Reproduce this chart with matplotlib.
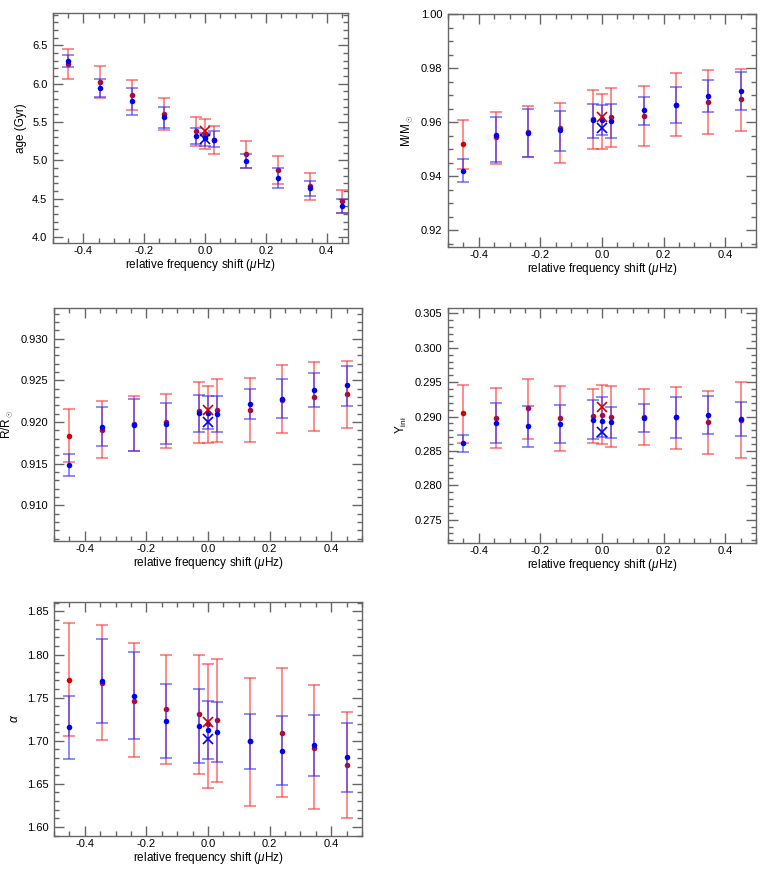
import numpy as np
import matplotlib
matplotlib.use('Agg')
import matplotlib.pyplot as plt
from matplotlib.ticker import MultipleLocator, FixedLocator, FormatStrFormatter

plt.rcParams['font.family'] = ['Liberation Sans', 'DejaVu Sans']
plt.rcParams['axes.unicode_minus'] = False
plt.rcParams['mathtext.fontset'] = 'custom'
plt.rcParams['mathtext.rm'] = 'Liberation Sans'
plt.rcParams['mathtext.it'] = 'Liberation Sans:italic'

# frequency shifts (uHz) of the 11 fits
shift = [-0.45, -0.345, -0.24, -0.135, -0.03, 0.0, 0.03, 0.135, 0.24, 0.345, 0.45]

# age (Gyr)
age_red = [6.255, 6.023, 5.850, 5.600, 5.375, 5.335, 5.265, 5.085, 4.873, 4.661, 4.465]
age_red_lo = [6.065, 5.811, 5.655, 5.395, 5.187, 5.148, 5.083, 4.900, 4.695, 4.487, 4.310]
age_red_hi = [6.446, 6.231, 6.045, 5.811, 5.568, 5.542, 5.447, 5.254, 5.055, 4.839, 4.610]
age_blue = [6.295, 5.945, 5.768, 5.560, 5.315, 5.290, 5.270, 4.990, 4.771, 4.636, 4.398]
age_blue_lo = [6.213, 5.824, 5.586, 5.417, 5.209, 5.190, 5.166, 4.900, 4.640, 4.534, 4.310]
age_blue_hi = [6.370, 6.058, 5.941, 5.694, 5.425, 5.360, 5.382, 5.085, 4.900, 4.733, 4.500]
age_x = [5.375, 5.280]

# mass (Msun)
mass_red = [0.9518, 0.9544, 0.9565, 0.9578, 0.9612, 0.9610, 0.9619, 0.9621, 0.9662, 0.9674, 0.9685]
mass_red_lo = [0.9428, 0.9445, 0.9470, 0.9448, 0.9502, 0.9501, 0.9507, 0.9510, 0.9547, 0.9555, 0.9569]
mass_red_hi = [0.9609, 0.9638, 0.9659, 0.9669, 0.9719, 0.9704, 0.9727, 0.9734, 0.9781, 0.9792, 0.9797]
mass_blue = [0.9421, 0.9554, 0.9560, 0.9570, 0.9607, 0.9607, 0.9604, 0.9643, 0.9664, 0.9696, 0.9715]
mass_blue_lo = [0.9380, 0.9452, 0.9470, 0.9495, 0.9543, 0.9551, 0.9543, 0.9591, 0.9596, 0.9638, 0.9643]
mass_blue_hi = [0.9462, 0.9620, 0.9649, 0.9642, 0.9667, 0.9664, 0.9667, 0.9693, 0.9731, 0.9755, 0.9785]
mass_x = [0.9620, 0.9578]

# radius (Rsun)
rad_red = [0.91836, 0.91908, 0.91980, 0.92004, 0.92128, 0.92104, 0.92144, 0.92144, 0.92270, 0.92304, 0.92332]
rad_red_lo = [0.91520, 0.91572, 0.91648, 0.91688, 0.91752, 0.91752, 0.91760, 0.91760, 0.91872, 0.91892, 0.91932]
rad_red_hi = [0.92156, 0.92248, 0.92308, 0.92332, 0.92484, 0.92436, 0.92512, 0.92530, 0.92680, 0.92716, 0.92732]
rad_blue = [0.91480, 0.91940, 0.91964, 0.91980, 0.92104, 0.92104, 0.92100, 0.92216, 0.92276, 0.92384, 0.92440]
rad_blue_lo = [0.91348, 0.91708, 0.91648, 0.91732, 0.91884, 0.91912, 0.91884, 0.92040, 0.92052, 0.92180, 0.92190]
rad_blue_hi = [0.91616, 0.92176, 0.92272, 0.92232, 0.92324, 0.92312, 0.92312, 0.92392, 0.92512, 0.92588, 0.92676]
rad_x = [0.92140, 0.92000]

# initial helium
yini_red = [0.29049, 0.28985, 0.29121, 0.28976, 0.29005, 0.29029, 0.29000, 0.28995, 0.28990, 0.28922, 0.28951]
yini_red_lo = [0.28621, 0.28549, 0.28680, 0.28495, 0.28612, 0.28597, 0.28563, 0.28592, 0.28529, 0.28456, 0.28398]
yini_red_hi = [0.29456, 0.29422, 0.29549, 0.29451, 0.29403, 0.29461, 0.29442, 0.29408, 0.29437, 0.29379, 0.29500]
yini_blue = [0.28612, 0.28913, 0.28864, 0.28898, 0.28956, 0.28932, 0.28922, 0.28981, 0.28995, 0.29029, 0.28966]
yini_blue_lo = [0.28485, 0.28617, 0.28563, 0.28621, 0.28675, 0.28700, 0.28689, 0.28777, 0.28694, 0.28752, 0.28718]
yini_blue_hi = [0.28733, 0.29204, 0.29160, 0.29170, 0.29243, 0.29286, 0.29146, 0.29184, 0.29282, 0.29306, 0.29218]
yini_x = [0.29146, 0.28782]

# mixing length
alpha_red = [1.7704, 1.7669, 1.7467, 1.7369, 1.7307, 1.7190, 1.7241, 1.6996, 1.7093, 1.6920, 1.6716]
alpha_red_lo = [1.7058, 1.7004, 1.6810, 1.6736, 1.6615, 1.6456, 1.6526, 1.6238, 1.6351, 1.6207, 1.6100]
alpha_red_hi = [1.8370, 1.8341, 1.8131, 1.7999, 1.7999, 1.7894, 1.7953, 1.7731, 1.7844, 1.7645, 1.7338]
alpha_blue = [1.7160, 1.7692, 1.7521, 1.7229, 1.7167, 1.7128, 1.7105, 1.6996, 1.6887, 1.6950, 1.6810]
alpha_blue_lo = [1.6786, 1.7206, 1.7016, 1.6798, 1.6739, 1.6786, 1.6759, 1.6677, 1.6487, 1.6588, 1.6409]
alpha_blue_hi = [1.7525, 1.8178, 1.8026, 1.7653, 1.7599, 1.7463, 1.7451, 1.7315, 1.7288, 1.7303, 1.7206]
alpha_x = [1.7222, 1.7019]

W, H = 765, 869
fig = plt.figure(figsize=(W / 100, H / 100), dpi=100)


def rect(l, r, t, b):
    return [l / W, 1 - b / H, (r - l) / W, (b - t) / H]


panels = [
    # (box in px, xlim, ylim, major, minor, fmt, ylabel, data)
    (rect(53, 348, 13, 243), (-0.5, 0.47), (3.92, 6.92), 0.5, 0.1, '%.1f', 'age (Gyr)',
     (age_red, age_red_lo, age_red_hi, age_blue, age_blue_lo, age_blue_hi, age_x)),
    (rect(448, 756, 14, 247), (-0.5, 0.5), (0.9138, 1.0), 0.02, 0.005, '%.2f', r'M/M$_\odot$',
     (mass_red, mass_red_lo, mass_red_hi, mass_blue, mass_blue_lo, mass_blue_hi, mass_x)),
    (rect(54, 362, 308, 541), (-0.5, 0.5), (0.9057, 0.9337), 0.005, 0.001, '%.3f', r'R/R$_\odot$',
     (rad_red, rad_red_lo, rad_red_hi, rad_blue, rad_blue_lo, rad_blue_hi, rad_x)),
    (rect(448, 756, 308, 543), (-0.5, 0.5), (0.2716, 0.3058), 0.005, 0.001, '%.3f', r'Y$_{\rm ini}$',
     (yini_red, yini_red_lo, yini_red_hi, yini_blue, yini_blue_lo, yini_blue_hi, yini_x)),
    (rect(54, 362, 602, 836), (-0.5, 0.5), (1.5895, 1.861), 0.05, 0.01, '%.2f', r'$\alpha$',
     (alpha_red, alpha_red_lo, alpha_red_hi, alpha_blue, alpha_blue_lo, alpha_blue_hi, alpha_x)),
]

frame_col = '#666666'

for box, xlim, ylim, major, minor, fmt, ylabel, data in panels:
    ax = fig.add_axes(box)
    r, rlo, rhi, b, blo, bhi, xs = [np.array(d) for d in data]
    x = np.array(shift)

    ax.errorbar(x, r, yerr=[r - rlo, rhi - r], fmt='none', ecolor='#ff3030',
                elinewidth=1.3, capsize=4, capthick=1.3, alpha=0.6, zorder=2)
    ax.plot(x, r, 'o', color='#d00000', ms=4, mec='none', zorder=3)
    ax.errorbar(x, b, yerr=[b - blo, bhi - b], fmt='none', ecolor='#3030ff',
                elinewidth=1.3, capsize=4, capthick=1.3, alpha=0.6, zorder=4)
    ax.plot(x, b, 'o', color='#0000f0', ms=4, mec='none', zorder=5)
    ax.plot([0.0], [xs[0]], 'x', color='#d00000', ms=7, mew=1.2, zorder=6)
    ax.plot([0.0], [xs[1]], 'x', color='#0000f0', ms=7, mew=1.2, zorder=6)

    ax.set_xlim(*xlim)
    ax.set_ylim(*ylim)
    ax.xaxis.set_major_locator(FixedLocator([-0.4, -0.2, 0.0, 0.2, 0.4]))
    ax.xaxis.set_major_formatter(FormatStrFormatter('%.1f'))
    ax.xaxis.set_minor_locator(MultipleLocator(0.05))
    ax.yaxis.set_major_locator(MultipleLocator(major))
    ax.yaxis.set_major_formatter(FormatStrFormatter(fmt))
    ax.yaxis.set_minor_locator(MultipleLocator(minor))

    ax.tick_params(which='both', direction='in', top=True, right=True,
                   color=frame_col, width=1.0, labelsize=8)
    ax.tick_params(which='major', length=7)
    ax.tick_params(which='minor', length=3.5)
    ax.tick_params(axis='x', pad=2)
    ax.tick_params(axis='y', pad=4)
    for sp in ax.spines.values():
        sp.set_color(frame_col)
        sp.set_linewidth(1.0)

    ax.set_xlabel(r'relative frequency shift ($\mu$Hz)', fontsize=8.5, labelpad=1)
    ax.set_ylabel(ylabel, fontsize=8.5, labelpad=4)

fig.savefig('out.png', dpi=100)
